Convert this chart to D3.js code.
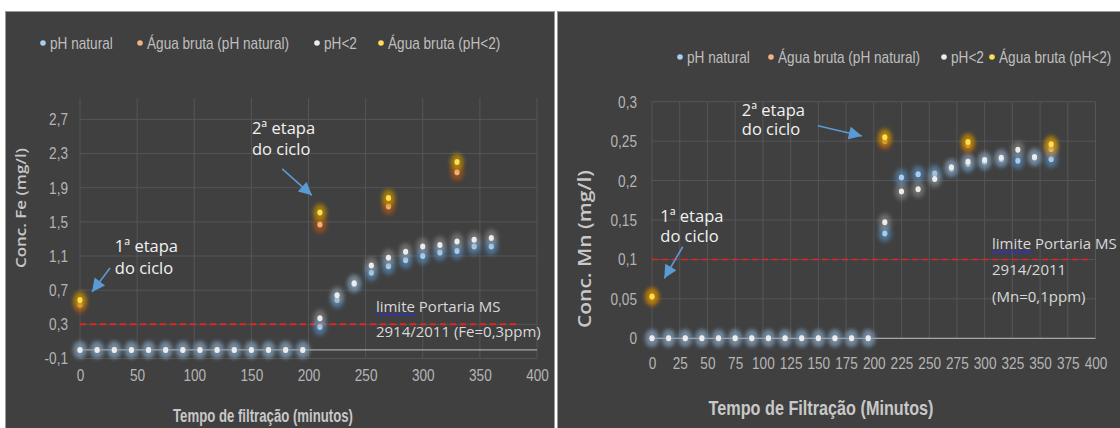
<!DOCTYPE html>
<html>
<head>
<meta charset="utf-8">
<title>Fe e Mn - tempo de filtração</title>
<style>
  body { margin: 0; background: #fff; }
  svg text { font-family: "Liberation Sans Narrow", "Liberation Sans", sans-serif; }
</style>
<script src="https://cdnjs.cloudflare.com/ajax/libs/d3/7.8.5/d3.min.js"></script>
</head>
<body>
<svg id="chart" width="1120" height="428"></svg>
<script>
// ---- data ----
const tempo = [0,15,30,45,60,75,90,105,120,135,150,165,180,195,210,225,240,255,270,285,300,315,330,345,360];

// Fe (mg/l)
const feNatural = [0,0,0,0,0,0,0,0,0,0,0,0,0,0,0.27,0.585,0.77,0.905,0.98,1.05,1.10,1.14,1.16,1.21,1.21];
const feAcido   = [0,0,0,0,0,0,0,0,0,0,0,0,0,0,0.37,0.64,0.78,0.99,1.08,1.15,1.21,1.23,1.27,1.29,1.31];
const tempoBrutaFe = [0,210,270,330];
const feBrutaNatural = [0.53,1.47,1.68,2.08];
const feBrutaAcido   = [0.585,1.61,1.78,2.20];

// Mn (mg/l)
const mnNatural = [0,0,0,0,0,0,0,0,0,0,0,0,0,0,0.133,0.204,0.208,0.209,0.215,0.221,0.224,0.227,0.225,0.229,0.227];
const mnAcido   = [0,0,0,0,0,0,0,0,0,0,0,0,0,0,0.147,0.186,0.189,0.202,0.217,0.224,0.226,0.229,0.239,0.230,0.240];
const tempoBrutaMn = [0,210,285,360];
const mnBrutaNatural = [0.052,0.250,0.245,0.242];
const mnBrutaAcido   = [0.053,0.255,0.249,0.246];

const seriesNames = ["pH natural", "Água bruta (pH natural)", "pH<2", "Água bruta (pH<2)"];
const feTicks = [-0.1,0.3,0.7,1.1,1.5,1.9,2.3,2.7];
const mnTicks = [0,0.05,0.1,0.15,0.2,0.25,0.3];
const feTimeTicks = [0,50,100,150,200,250,300,350,400];
const mnTimeTicks = [0,25,50,75,100,125,150,175,200,225,250,275,300,325,350,375,400];
const limiteFe = 0.3, limiteMn = 0.1;

// ---- styles ----
const styles = [
  {glow: "#5b9bd5", dot: "#a9cdee", op: 0.55},
  {glow: "#c55a11", dot: "#f4b183", op: 0.6},
  {glow: "#a5a5a5", dot: "#ececec", op: 0.45},
  {glow: "#bf9000", dot: "#ffdd55", op: 0.75}
];
const loc = d3.formatLocale({decimal: ",", thousands: ".", grouping: [3], currency: ["", ""], minus: "-"});

// squeeze text horizontally (no condensed Calibri here)
function narrow(sel, k) {
  sel.each(function () {
    const len = this.getComputedTextLength();
    d3.select(this).attr("textLength", len * k).attr("lengthAdjust", "spacingAndGlyphs");
  });
}

const svg = d3.select("#chart");
const defs = svg.append("defs");
defs.append("filter").attr("id", "glow").attr("x", "-100%").attr("y", "-100%").attr("width", "300%").attr("height", "300%")
  .append("feGaussianBlur").attr("stdDeviation", 2.3);
defs.append("marker").attr("id", "arr").attr("markerUnits", "userSpaceOnUse")
  .attr("viewBox", "0 0 10 10").attr("refX", 10).attr("refY", 5)
  .attr("markerWidth", 15).attr("markerHeight", 13).attr("orient", "auto")
  .append("path").attr("d", "M0,0 L10,5 L0,10 Z").attr("fill", "#5b9bd5");

// panels
svg.append("rect").attr("x", 5.5).attr("y", 11.5).attr("width", 549).attr("height", 420)
  .attr("fill", "#404040").attr("stroke", "#9a9a9a");
svg.append("rect").attr("x", 557.5).attr("y", 11.5).attr("width", 570).attr("height", 420)
  .attr("fill", "#404040").attr("stroke", "#9a9a9a");

function drawPanel(p) {
  const g = svg.append("g");
  const x = d3.scaleLinear().domain([0, 400]).range(p.xRange);
  const y = d3.scaleLinear().domain(p.yDomain).range(p.yRange);

  // grid
  g.selectAll(".hg").data(p.yTicks).enter().append("line")
    .attr("x1", x(0)).attr("x2", x(400))
    .attr("y1", d => y(d)).attr("y2", d => y(d))
    .attr("stroke", "#555").attr("stroke-width", 1);
  g.selectAll(".vg").data(p.xTicks).enter().append("line")
    .attr("x1", d => x(d)).attr("x2", d => x(d))
    .attr("y1", y(p.yDomain[0])).attr("y2", y(p.yDomain[1]))
    .attr("stroke", "#555").attr("stroke-width", 1);

  // axes labels
  const ya = g.append("g").attr("transform", `translate(${x(0)},0)`)
    .call(d3.axisLeft(y).tickValues(p.yTicks).tickFormat(p.yFmt).tickSize(0).tickPadding(p.yPad));
  const xa = g.append("g").attr("transform", `translate(0,${y(p.yDomain[0])})`)
    .call(d3.axisBottom(x).tickValues(p.xTicks).tickFormat(d3.format("d")).tickSize(0).tickPadding(p.xPad));
  [ya, xa].forEach(a => {
    a.select(".domain").remove();
    a.selectAll("text").attr("fill", "#b5b5b5").style("font-size", "17px")
      .style("font-family", "'Liberation Sans', sans-serif")
      .call(narrow, 0.8);
  });

  // zero line
  g.append("line").attr("x1", x(0)).attr("x2", x(400)).attr("y1", y(0)).attr("y2", y(0))
    .attr("stroke", "#a6a6a6").attr("stroke-width", 1.2);

  // limit line
  g.append("line").attr("x1", x(0)).attr("x2", x(p.limitEnd)).attr("y1", y(p.limit)).attr("y2", y(p.limit))
    .attr("stroke", "#e8231f").attr("stroke-width", p.limitW).attr("stroke-dasharray", "6,4");

  // series
  p.series.forEach((s, i) => {
    const st = styles[i];
    const pts = s.t.map((t, k) => [t, s.v[k]]);
    const sg = g.append("g");
    sg.selectAll(".gl").data(pts).enter().append("ellipse")
      .attr("cx", d => x(d[0])).attr("cy", d => y(d[1]))
      .attr("rx", 6.5).attr("ry", 8.5)
      .attr("fill", st.glow).attr("opacity", st.op).attr("filter", "url(#glow)");
    sg.selectAll(".dt").data(pts).enter().append("ellipse")
      .attr("cx", d => x(d[0])).attr("cy", d => y(d[1]))
      .attr("rx", 2.6).attr("ry", 3)
      .attr("fill", st.dot);
  });

  // legend
  p.legendX.forEach((lx, i) => {
    g.append("circle").attr("cx", lx).attr("cy", p.legendY).attr("r", 2.8).attr("fill", styles[i].dot);
    g.append("text").attr("x", lx + 7).attr("y", p.legendY).attr("dy", "0.35em")
      .attr("fill", "#bfbfbf").style("font-size", "17px")
      .style("font-family", "'Liberation Sans', sans-serif")
      .text(seriesNames[i]).call(narrow, 0.8);
  });

  // annotations
  p.notes.forEach(n => {
    n.lines.forEach((ln, k) => {
      g.append("text").attr("x", x(n.t)).attr("y", y(n.v[k])).attr("dy", "0.35em")
        .attr("fill", "#f2f2f2").style("font-family", "'Open Sans', sans-serif").style("font-size", "16.5px")
        .text(ln);
    });
  });
  p.arrows.forEach(a => {
    g.append("line").attr("x1", x(a[0])).attr("y1", y(a[1])).attr("x2", x(a[2])).attr("y2", y(a[3]))
      .attr("stroke", "#5b9bd5").attr("stroke-width", 1.6).attr("marker-end", "url(#arr)");
  });

  // limit text
  p.limitText.lines.forEach((ln, k) => {
    const tx = g.append("text").attr("x", x(p.limitText.t)).attr("y", y(p.limitText.v[k])).attr("dy", "0.35em")
      .attr("fill", "#d9d9d9").style("font-family", "'Open Sans', sans-serif").style("font-size", "15px");
    if (k === 0) {
      const w = tx.append("tspan").text("limite");
      tx.append("tspan").text(" Portaria MS");
      const len = w.node().getComputedTextLength();
      const x0 = x(p.limitText.t), yy = y(p.limitText.v[k]) + 8;
      let d = `M${x0},${yy}`;
      for (let xx = x0; xx < x0 + len; xx += 2) d += ` L${xx + 2},${yy + ((xx - x0) / 2 % 2 === 0 ? 1.2 : -1.2)}`;
      g.append("path").attr("d", d).attr("fill", "none").attr("stroke", "#2b2bff").attr("stroke-width", 1);
    } else {
      tx.text(ln);
    }
  });

  // axis titles
  g.append("text").attr("transform", `translate(${p.yTitle.x},${p.yTitle.y}) rotate(-90)`)
    .attr("text-anchor", "middle").attr("dy", "0.35em")
    .attr("fill", "#c8c8c8").style("font-family", "'Open Sans', sans-serif").style("font-weight", 600)
    .style("font-size", p.yTitle.size + "px")
    .attr("textLength", p.yTitle.len).attr("lengthAdjust", "spacingAndGlyphs")
    .text(p.yTitle.text);
  g.append("text").attr("x", p.xTitle.x).attr("y", p.xTitle.y).attr("dy", "0.35em")
    .attr("text-anchor", "middle").attr("fill", "#c8c8c8").style("font-weight", "bold")
    .style("font-family", "'Liberation Sans', sans-serif")
    .style("font-size", p.xTitle.size + "px")
    .attr("textLength", p.xTitle.len).attr("lengthAdjust", "spacingAndGlyphs")
    .text(p.xTitle.text);
}

drawPanel({
  xRange: [80, 537], yDomain: [-0.1, 2.95], yRange: [358.5, 98],
  yTicks: feTicks, xTicks: feTimeTicks, yFmt: loc.format(".1f"), yPad: 12, xPad: 10,
  limit: limiteFe, limitEnd: 385, limitW: 2,
  series: [
    {t: tempo, v: feNatural},
    {t: tempoBrutaFe, v: feBrutaNatural},
    {t: tempo, v: feAcido},
    {t: tempoBrutaFe, v: feBrutaAcido}
  ],
  legendX: [43, 140, 317, 381], legendY: 43,
  notes: [
    {t: 30.5, v: [1.21, 0.96], lines: ["1ª etapa", "do ciclo"]},
    {t: 150.5, v: [2.6, 2.35], lines: ["2ª etapa", "do ciclo"]}
  ],
  arrows: [[26.3, 0.96, 10.5, 0.68], [177, 2.12, 203, 1.81]],
  limitText: {t: 259, v: [0.507, 0.214], lines: ["limite Portaria MS", "2914/2011 (Fe=0,3ppm)"]},
  yTitle: {x: 21, y: 208, text: "Conc. Fe (mg/l)", size: 14, len: 120},
  xTitle: {x: 263, y: 416, text: "Tempo de filtração (minutos)", size: 18, len: 180}
});

drawPanel({
  xRange: [652, 1095.5], yDomain: [0, 0.3], yRange: [338.3, 101.7],
  yTicks: mnTicks, xTicks: mnTimeTicks, yFmt: loc.format("~f"), yPad: 15, xPad: 19,
  limit: limiteMn, limitEnd: 397, limitW: 1.5,
  series: [
    {t: tempo, v: mnNatural},
    {t: tempoBrutaMn, v: mnBrutaNatural},
    {t: tempo, v: mnAcido},
    {t: tempoBrutaMn, v: mnBrutaAcido}
  ],
  legendX: [680, 771, 944, 992], legendY: 57,
  notes: [
    {t: 7.5, v: [0.155, 0.1297], lines: ["1ª etapa", "do ciclo"]},
    {t: 81, v: [0.2895, 0.265], lines: ["2ª etapa", "do ciclo"]}
  ],
  arrows: [[27.7, 0.1161, 11.1, 0.0761], [149.6, 0.2696, 189.3, 0.2565]],
  limitText: {t: 306.7, v: [0.1196, 0.0866, 0.0527], lines: ["limite Portaria MS", "2914/2011", "(Mn=0,1ppm)"]},
  yTitle: {x: 585, y: 249, text: "Conc. Mn (mg/l)", size: 18, len: 158},
  xTitle: {x: 821, y: 408, text: "Tempo de Filtração (Minutos)", size: 21, len: 225}
});
</script>
</body>
</html>
